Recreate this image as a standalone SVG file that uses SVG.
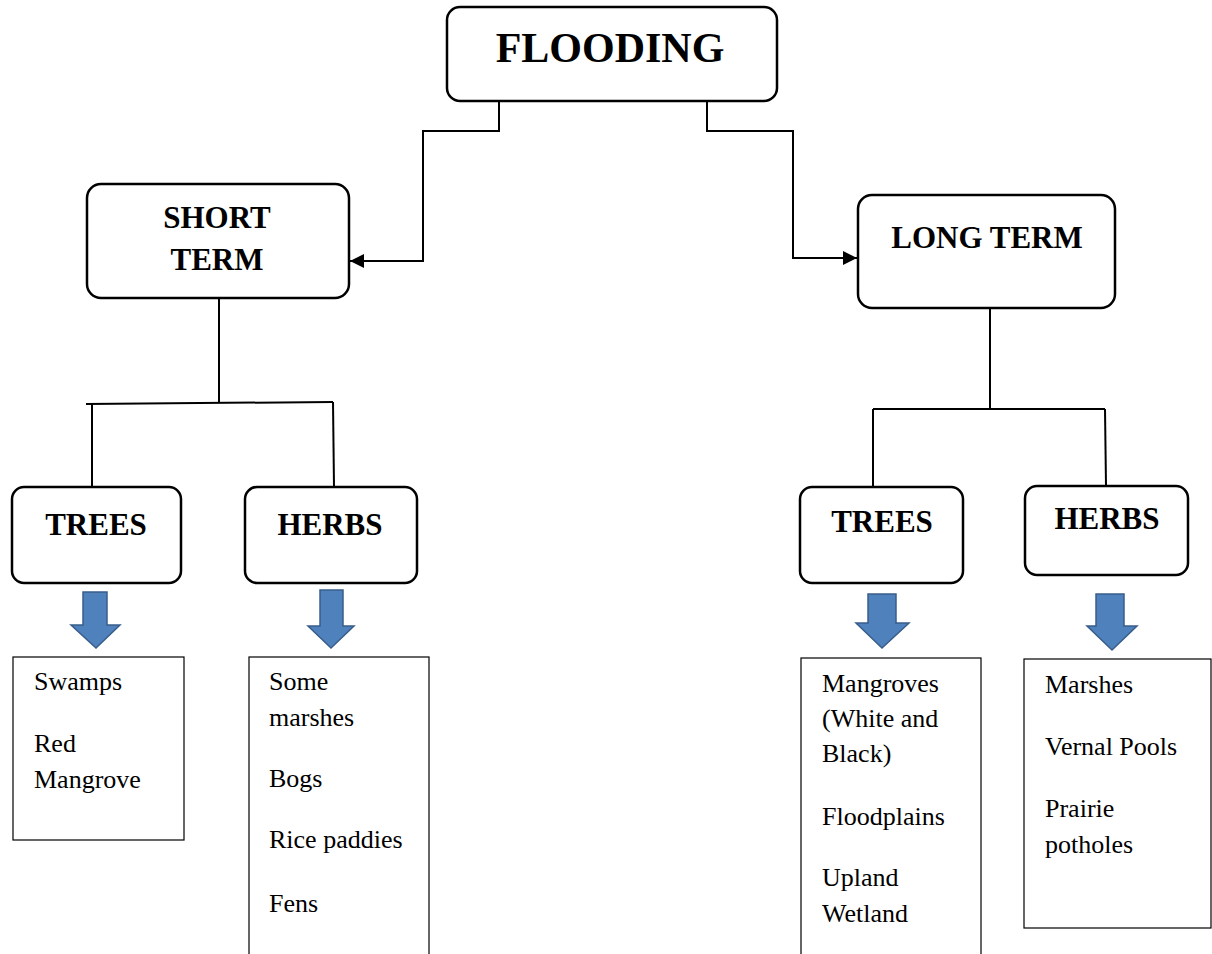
<svg xmlns="http://www.w3.org/2000/svg" width="1212" height="954" viewBox="0 0 1212 954">
<style>
.node{fill:#fff;stroke:#000;stroke-width:2.5}
.box{fill:#fff;stroke:#000;stroke-width:1.2}
.hd{font-family:'Liberation Serif','Times New Roman',Times,serif;font-weight:bold;fill:#000;text-anchor:middle}
.tx{font-family:'Liberation Serif','Times New Roman',Times,serif;font-size:26px;fill:#000}
.ln{fill:none;stroke:#000;stroke-width:2}
.blk{fill:#4F81BD;stroke:#385D8A;stroke-width:1.5}
</style>
<defs>
<marker id="ah" viewBox="0 0 10 10" refX="10" refY="5" markerWidth="14" markerHeight="14" markerUnits="userSpaceOnUse" orient="auto">
<path d="M0,0 L10,5 L0,10 z" fill="#000"/>
</marker>
</defs>
<rect width="1212" height="954" fill="#fff"/>
<g id="connectors">
<path class="ln" d="M499,101 V131 H423 V261 H350" marker-end="url(#ah)"/>
<path class="ln" d="M707,101 V131 H793 V258 H857" marker-end="url(#ah)"/>
<path class="ln" d="M219,298 V403"/>
<path class="ln" d="M86,404 L333,402"/>
<path class="ln" d="M92,404 V487"/>
<path class="ln" d="M333,402 L334,487"/>
<path class="ln" d="M990,308 V409"/>
<path class="ln" d="M873,409 H1105"/>
<path class="ln" d="M873,409 V487"/>
<path class="ln" d="M1105,409 L1106,486"/>
</g>
<g id="flooding">
<rect class="node" x="447" y="7" width="330" height="94" rx="13"/>
<text class="hd" x="610" y="62" font-size="42" font-family="Liberation Serif">FLOODING</text>
</g>
<g id="short-term">
<rect class="node" x="87" y="184" width="262" height="114" rx="14"/>
<text class="hd" x="217" y="228" font-size="31" font-family="Liberation Serif">SHORT</text>
<text class="hd" x="217" y="270" font-size="31" font-family="Liberation Serif">TERM</text>
</g>
<g id="long-term">
<rect class="node" x="858" y="195" width="257" height="113" rx="14"/>
<text class="hd" x="987" y="248" font-size="31" font-family="Liberation Serif">LONG TERM</text>
</g>
<g id="st-trees">
<rect class="node" x="12" y="487" width="169" height="96" rx="12"/>
<text class="hd" x="96" y="535" font-size="31" font-family="Liberation Serif">TREES</text>
</g>
<g id="st-herbs">
<rect class="node" x="245" y="487" width="172" height="96" rx="12"/>
<text class="hd" x="330" y="535" font-size="31" font-family="Liberation Serif">HERBS</text>
</g>
<g id="lt-trees">
<rect class="node" x="800" y="487" width="163" height="96" rx="12"/>
<text class="hd" x="882" y="532" font-size="31" font-family="Liberation Serif">TREES</text>
</g>
<g id="lt-herbs">
<rect class="node" x="1025" y="486" width="163" height="89" rx="12"/>
<text class="hd" x="1107" y="529" font-size="31" font-family="Liberation Serif">HERBS</text>
</g>
<g id="arrow-st-trees">
<path class="blk" d="M83,592 H107 V625 H120 L96,648 L71,625 H83 Z"/>
</g>
<g id="arrow-st-herbs">
<path class="blk" d="M320,590 H343 V626 H354 L331,648 L308,626 H320 Z"/>
</g>
<g id="arrow-lt-trees">
<path class="blk" d="M868,594 H896 V623 H909 L882,648 L856,623 H868 Z"/>
</g>
<g id="arrow-lt-herbs">
<path class="blk" d="M1096,594 H1124 V626 H1137 L1112,650 L1087,626 H1096 Z"/>
</g>
<g id="list-st-trees" font-family="Liberation Serif">
<rect class="box" x="13" y="657" width="171" height="183"/>
<text class="tx" x="34" y="690">Swamps</text>
<text class="tx" x="34" y="752">Red</text>
<text class="tx" x="34" y="788">Mangrove</text>
</g>
<g id="list-st-herbs">
<rect class="box" x="249" y="657" width="180" height="310"/>
<text class="tx" x="269" y="690">Some</text>
<text class="tx" x="269" y="726">marshes</text>
<text class="tx" x="269" y="787">Bogs</text>
<text class="tx" x="269" y="848">Rice paddies</text>
<text class="tx" x="269" y="912">Fens</text>
</g>
<g id="list-lt-trees">
<rect class="box" x="801" y="658" width="180" height="310"/>
<text class="tx" x="822" y="692">Mangroves</text>
<text class="tx" x="822" y="727">(White and</text>
<text class="tx" x="822" y="762">Black)</text>
<text class="tx" x="822" y="825">Floodplains</text>
<text class="tx" x="822" y="886">Upland</text>
<text class="tx" x="822" y="922">Wetland</text>
</g>
<g id="list-lt-herbs">
<rect class="box" x="1024" y="659" width="187" height="269"/>
<text class="tx" x="1045" y="693">Marshes</text>
<text class="tx" x="1045" y="755">Vernal Pools</text>
<text class="tx" x="1045" y="817">Prairie</text>
<text class="tx" x="1045" y="853">potholes</text>
</g>
</svg>
